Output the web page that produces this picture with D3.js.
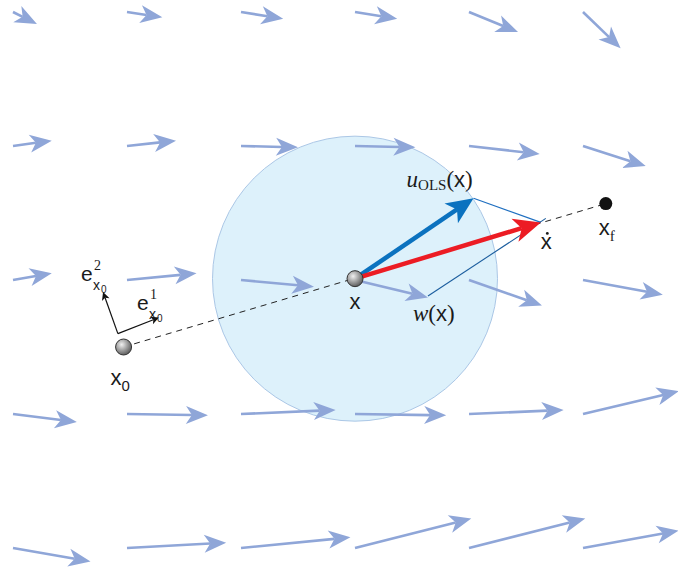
<!DOCTYPE html>
<html>
<head>
<meta charset="utf-8">
<script src="https://cdn.jsdelivr.net/npm/d3@7"></script>
<style>
  html, body { margin: 0; padding: 0; background: #fff; }
  svg { display: block; }
  .sans { font-family: "Liberation Sans", "DejaVu Sans", sans-serif; }
  .serif { font-family: "Liberation Serif", "DejaVu Serif", serif; }
</style>
</head>
<body>
<svg id="chart"></svg>
<script>
// grid of the vector field (data units)
const gridX = [0, 1, 2, 3, 4, 5];
const gridY = [4, 3, 2, 1, 0];

// field components per row (top row first)
const fieldU = [
  [0.21, 0.31, 0.37, 0.37, 0.43, 0.33],
  [0.34, 0.43, 0.50, 0.53, 0.62, 0.55],
  [0.34, 0.61, 0.64, 0.64, 0.64, 0.70],
  [0.56, 0.71, 0.83, 0.80, 0.83, 0.84],
  [0.68, 0.87, 0.96, 1.02, 1.02, 0.84]
];
const fieldV = [
  [-0.09, -0.04, -0.05, -0.05, -0.15, -0.27],
  [ 0.04,  0.04, -0.01, -0.01, -0.06, -0.15],
  [ 0.05,  0.05, -0.05, -0.13, -0.19, -0.11],
  [-0.06, -0.01,  0.03, -0.01,  0.03,  0.17],
  [-0.10,  0.04,  0.08,  0.22,  0.22,  0.13]
];

// points of the construction
const pX0 = [0.97, 1.50];
const pX = [3.0, 2.01];
const pXf = [5.20, 2.57];
const pXdot = [4.63, 2.43];
const pUols = [4.04, 2.61];
const wVec = [0.64, -0.13];          // field at x
const basisOrigin = [0.92, 1.60];
const basisE1 = [1.28, 1.72];
const basisE2 = [0.79, 1.91];
const ballRadius = 1.25;              // in x units

const W = 678, H = 574;
const svg = d3.select('#chart').attr('width', W).attr('height', H);

const x = d3.scaleLinear().domain([0, 5]).range([13, 583]);
const y = d3.scaleLinear().domain([0, 4]).range([548, 12]);
const px = p => [x(p[0]), y(p[1])];

const defs = svg.append('defs');
const grad = defs.append('radialGradient').attr('id', 'ball')
  .attr('cx', '38%').attr('cy', '35%').attr('r', '70%');
grad.append('stop').attr('offset', '0%').attr('stop-color', '#f0f0f0');
grad.append('stop').attr('offset', '55%').attr('stop-color', '#9a9a9a');
grad.append('stop').attr('offset', '100%').attr('stop-color', '#555');

// arrow with a stealth-like head drawn as polygon
function arrow(g, a, b, opt) {
  const [x1, y1] = a, [x2, y2] = b;
  const dx = x2 - x1, dy = y2 - y1;
  const len = Math.hypot(dx, dy);
  const ux = dx / len, uy = dy / len, nx = -uy, ny = ux;
  const L = opt.head, hw = opt.half, notch = opt.notch;
  const bx = x2 - ux * L, by = y2 - uy * L;
  const mx = x2 - ux * (L - notch), my = y2 - uy * (L - notch);
  g.append('line')
    .attr('x1', x1).attr('y1', y1).attr('x2', mx).attr('y2', my)
    .attr('stroke', opt.color).attr('stroke-width', opt.width);
  g.append('path')
    .attr('d', `M${x2},${y2}L${bx + nx * hw},${by + ny * hw}L${mx},${my}L${bx - nx * hw},${by - ny * hw}Z`)
    .attr('fill', opt.color);
}

// disc
const c = px(pX);
svg.append('circle')
  .attr('cx', c[0]).attr('cy', c[1])
  .attr('r', x(ballRadius) - x(0))
  .attr('fill', '#ddf1fb').attr('stroke', '#abc7e6').attr('stroke-width', 1);

// vector field
const fieldG = svg.append('g');
gridY.forEach((gy, r) => {
  gridX.forEach((gx, k) => {
    const a = px([gx, gy]);
    const b = px([gx + fieldU[r][k], gy + fieldV[r][k]]);
    arrow(fieldG, a, b, { color: '#8fa6d8', width: 2.6, head: 22, half: 9, notch: 6 });
  });
});

// dashed trajectory line
const a0 = px(pX0), af = px(pXf);
svg.append('line')
  .attr('x1', a0[0]).attr('y1', a0[1]).attr('x2', af[0]).attr('y2', af[1])
  .attr('stroke', '#222').attr('stroke-width', 1).attr('stroke-dasharray', '6,5');

// parallelogram edges
const tipU = px(pUols), tipD = px(pXdot);
const tipW = px([pX[0] + wVec[0], pX[1] + wVec[1]]);
svg.append('line')
  .attr('x1', tipU[0]).attr('y1', tipU[1]).attr('x2', tipD[0]).attr('y2', tipD[1])
  .attr('stroke', '#1f6fc0').attr('stroke-width', 1.1);
svg.append('line')
  .attr('x1', tipW[0]).attr('y1', tipW[1]).attr('x2', tipD[0] + 5).attr('y2', tipD[1] - 4)
  .attr('stroke', '#1b5d9e').attr('stroke-width', 1.1);

// control arrows
const mainG = svg.append('g');
arrow(mainG, c, tipU, { color: '#0b72bf', width: 4.5, head: 27, half: 12, notch: 7 });
arrow(mainG, c, tipD, { color: '#ec1c24', width: 4.5, head: 27, half: 12, notch: 7 });

// basis vectors at x0
const bo = px(basisOrigin);
[basisE1, basisE2].forEach(e => {
  arrow(svg, bo, px(e), { color: '#111', width: 1.2, head: 8, half: 4, notch: 2 });
});

// points
[pX0, pX].forEach(p => {
  const q = px(p);
  svg.append('circle').attr('cx', q[0]).attr('cy', q[1]).attr('r', 8)
    .attr('fill', 'url(#ball)').attr('stroke', '#333').attr('stroke-width', 1);
});
svg.append('circle').attr('cx', af[0]).attr('cy', af[1]).attr('r', 6.5).attr('fill', '#111');

// labels
const T = svg.append('g').attr('fill', '#1a1a1a');
function label(xp, yp, parts, anchor) {
  const t = T.append('text').attr('x', xp).attr('y', yp).attr('text-anchor', anchor || 'start');
  parts.forEach(p => {
    const s = t.append('tspan').attr('class', p.cls || 'sans')
      .attr('font-size', p.size || 22).text(p.text);
    if (p.italic) s.attr('font-style', 'italic');
    if (p.dy) s.attr('dy', p.dy);
  });
  return t;
}
function piece(xp, yp, txt, size, cls) {
  T.append('text').attr('x', xp).attr('y', yp).attr('class', cls || 'sans')
    .attr('font-size', size).text(txt);
}

label(x(pX0[0]) - 13, y(pX0[1]) + 38, [{ text: 'x' }, { text: '0', size: 15, dy: 6 }]);
label(c[0], c[1] + 30, [{ text: 'x' }], 'middle');
label(af[0] - 7, af[1] + 31, [{ text: 'x' }, { text: 'f', cls: 'serif', size: 15, dy: 6 }]);
label(tipD[0] + 0, tipD[1] + 27, [{ text: 'x' }], 'start');
T.append('circle').attr('cx', tipD[0] + 6.5).attr('cy', tipD[1] + 11).attr('r', 1.4);
label(tipW[0] - 15, tipW[1] + 25, [
  { text: 'w', cls: 'serif', italic: true, size: 23 },
  { text: '(', cls: 'serif', size: 23 },
  { text: 'x' },
  { text: ')', cls: 'serif', size: 23 }
]);
label(tipU[0] - 67, tipU[1] - 11, [
  { text: 'u', cls: 'serif', italic: true, size: 23 },
  { text: 'OLS', cls: 'serif', size: 15, dy: 3 },
  { text: '(', cls: 'serif', size: 23, dy: -3 },
  { text: 'x' },
  { text: ')', cls: 'serif', size: 23 }
]);

// basis labels e^2_{x0} and e^1_{x0}
piece(bo[0] - 37, bo[1] - 53, 'e', 21);
piece(bo[0] - 24, bo[1] - 64, '2', 14, 'serif');
piece(bo[0] - 25, bo[1] - 44, 'x', 14);
piece(bo[0] - 17, bo[1] - 41, '0', 10);
piece(bo[0] + 19, bo[1] - 24, 'e', 21);
piece(bo[0] + 32, bo[1] - 35, '1', 14, 'serif');
piece(bo[0] + 31, bo[1] - 15, 'x', 14);
piece(bo[0] + 39, bo[1] - 12, '0', 10);
</script>
</body>
</html>
